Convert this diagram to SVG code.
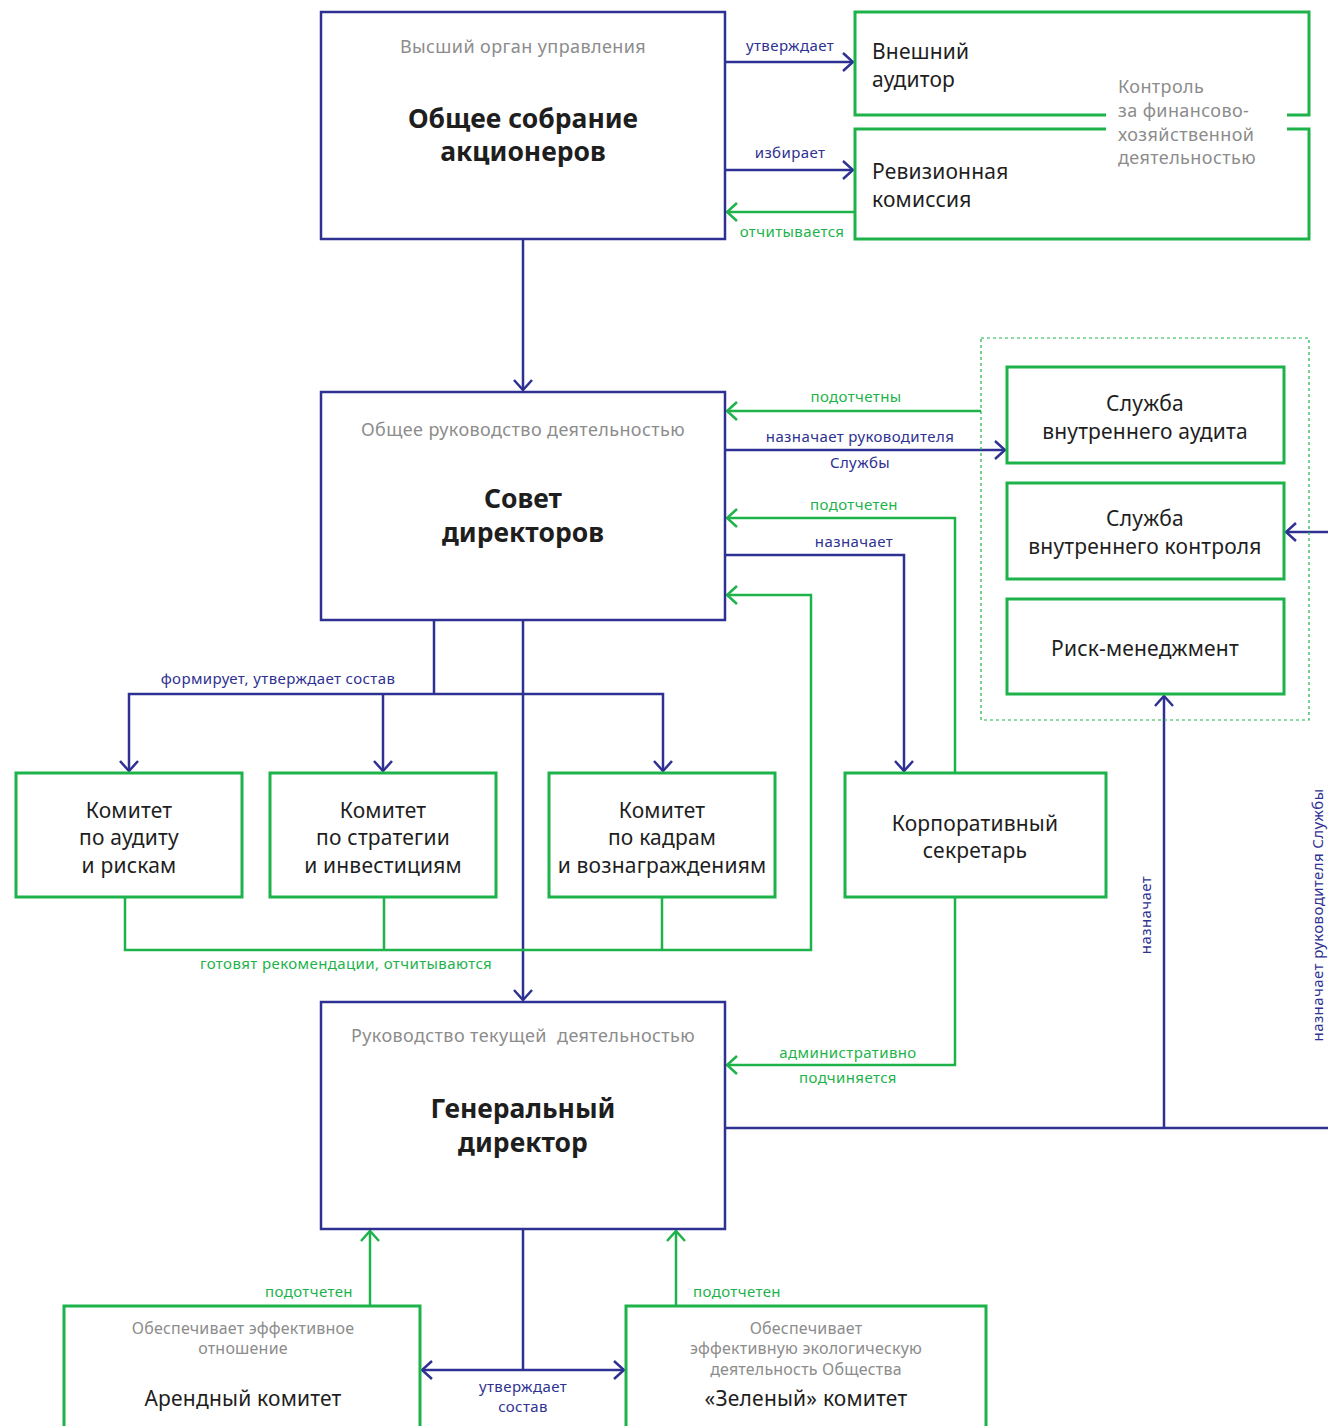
<svg xmlns="http://www.w3.org/2000/svg" width="1328" height="1426" viewBox="0 0 1328 1426">
<style>
text{font-family:"Noto Sans","Liberation Sans",sans-serif;}
.bb{fill:#fff;stroke:#2e3192;stroke-width:2.5}
.gb{fill:#fff;stroke:#1db34a;stroke-width:3}
.bl{fill:none;stroke:#2e3192;stroke-width:2.5}
.gl{fill:none;stroke:#1db34a;stroke-width:2.5}
.sub{fill:#8c8c8c;font-size:18px;letter-spacing:0.4px;text-anchor:middle}
.title{fill:#1e1e1e;font-size:26.5px;font-weight:700;text-anchor:middle}
.nm{fill:#1e1e1e;font-size:21px;letter-spacing:0.2px;text-anchor:middle}
.nml{fill:#1e1e1e;font-size:21px;letter-spacing:0.2px}
.lb{fill:#2e3192;font-size:15px;letter-spacing:0.4px;text-anchor:middle}
.lg{fill:#1db34a;font-size:15px;letter-spacing:0.4px;text-anchor:middle}
.sm{fill:#8c8c8c;font-size:16px;letter-spacing:0.2px;text-anchor:middle}
</style>
<defs>
<marker id="ab" viewBox="0 0 12 20" refX="11" refY="10" markerWidth="12" markerHeight="20" markerUnits="userSpaceOnUse" orient="auto-start-reverse"><path d="M1,1 L11,10 L1,19" fill="none" stroke="#2e3192" stroke-width="2.5"/></marker>
<marker id="ag" viewBox="0 0 12 20" refX="11" refY="10" markerWidth="12" markerHeight="20" markerUnits="userSpaceOnUse" orient="auto-start-reverse"><path d="M1,1 L11,10 L1,19" fill="none" stroke="#1db34a" stroke-width="2.5"/></marker>
</defs>

<g id="connectors">
<line class="bl" x1="725" y1="62" x2="853" y2="62" marker-end="url(#ab)"/>
<line class="bl" x1="725" y1="170" x2="853" y2="170" marker-end="url(#ab)"/>
<line class="gl" x1="855" y1="212" x2="727" y2="212" marker-end="url(#ag)"/>
<line class="bl" x1="523" y1="239" x2="523" y2="390" marker-end="url(#ab)"/>
<line class="gl" x1="981" y1="411" x2="727" y2="411" marker-end="url(#ag)"/>
<line class="bl" x1="725" y1="450" x2="1005" y2="450" marker-end="url(#ab)"/>
<polyline class="gl" points="955,773 955,518 727,518" marker-end="url(#ag)"/>
<polyline class="bl" points="725,555 904,555 904,771" marker-end="url(#ab)"/>
<polyline class="bl" points="434,620 434,694"/>
<polyline class="bl" points="129,771 129,694 663,694 663,771" marker-start="url(#ab)" marker-end="url(#ab)"/>
<line class="bl" x1="383" y1="694" x2="383" y2="771" marker-end="url(#ab)"/>
<line class="bl" x1="523" y1="620" x2="523" y2="1000" marker-end="url(#ab)"/>
<polyline class="gl" points="125,897 125,950 811,950 811,595 727,595" marker-end="url(#ag)"/>
<line class="gl" x1="384" y1="897" x2="384" y2="950"/>
<line class="gl" x1="662" y1="897" x2="662" y2="950"/>
<polyline class="gl" points="955,897 955,1065 727,1065" marker-end="url(#ag)"/>
<line class="bl" x1="725" y1="1128" x2="1330" y2="1128"/>
<line class="bl" x1="1164" y1="1128" x2="1164" y2="696" marker-end="url(#ab)"/>
<line class="bl" x1="1330" y1="532" x2="1286" y2="532" marker-end="url(#ab)"/>
<line class="bl" x1="523" y1="1229" x2="523" y2="1370"/>
<line class="bl" x1="422" y1="1370" x2="624" y2="1370" marker-start="url(#ab)" marker-end="url(#ab)"/>
<line class="gl" x1="370" y1="1306" x2="370" y2="1231" marker-end="url(#ag)"/>
<line class="gl" x1="676" y1="1306" x2="676" y2="1231" marker-end="url(#ag)"/>
<text class="lb" x="790" y="51">утверждает</text>
<text class="lb" x="790" y="158">избирает</text>
<text class="lg" x="792" y="237">отчитывается</text>
<text class="lg" x="856" y="402">подотчетны</text>
<text class="lb" x="860" y="442">назначает руководителя</text>
<text class="lb" x="860" y="468">Службы</text>
<text class="lg" x="854" y="510">подотчетен</text>
<text class="lb" x="854" y="547">назначает</text>
<text class="lb" x="278" y="684">формирует, утверждает состав</text>
<text class="lg" x="346" y="969">готовят рекомендации, отчитываются</text>
<text class="lg" x="848" y="1058">административно</text>
<text class="lg" x="848" y="1083">подчиняется</text>
<text class="lb" transform="translate(1151,915) rotate(-90)">назначает</text>
<text class="lb" transform="translate(1323,915) rotate(-90)">назначает руководителя Службы</text>
<text class="lg" x="309" y="1297">подотчетен</text>
<text class="lg" x="737" y="1297">подотчетен</text>
<text class="lb" x="523" y="1392">утверждает</text>
<text class="lb" x="523" y="1412">состав</text>
</g>

<g id="n-osa">
<rect class="bb" x="321" y="12" width="404" height="227"/>
<text class="sub" x="523" y="53">Высший орган управления</text>
<text class="title" x="523" y="128">Общее собрание</text>
<text class="title" x="523" y="161">акционеров</text>
</g>

<g id="n-auditor">
<path class="gb" d="M1106,115 L855,115 L855,12 L1309,12 L1309,115 L1287,115"/>
<text class="nml" x="872" y="59">Внешний</text>
<text class="nml" x="872" y="87">аудитор</text>
</g>

<g id="n-revision">
<path class="gb" d="M1106,129 L855,129 L855,239 L1309,239 L1309,129 L1287,129"/>
<text class="nml" x="872" y="179">Ревизионная</text>
<text class="nml" x="872" y="207">комиссия</text>
</g>

<g id="n-control-note">
<text class="sub" style="text-anchor:start" x="1118" y="93">Контроль</text>
<text class="sub" style="text-anchor:start" x="1118" y="117">за финансово-</text>
<text class="sub" style="text-anchor:start" x="1118" y="141">хозяйственной</text>
<text class="sub" style="text-anchor:start" x="1118" y="164">деятельностью</text>
</g>

<g id="n-sd">
<rect class="bb" x="321" y="392" width="404" height="228"/>
<text class="sub" x="523" y="436">Общее руководство деятельностью</text>
<text class="title" x="523" y="508">Совет</text>
<text class="title" x="523" y="542">директоров</text>
</g>

<g id="n-internal-group">
<rect x="981" y="338" width="328" height="382" fill="none" stroke="#1db34a" stroke-width="1.2" stroke-dasharray="3,3"/>
</g>

<g id="n-sva">
<rect class="gb" x="1007" y="367" width="277" height="96"/>
<text class="nm" x="1145" y="411">Служба</text>
<text class="nm" x="1145" y="439">внутреннего аудита</text>
</g>

<g id="n-svk">
<rect class="gb" x="1007" y="483" width="277" height="96"/>
<text class="nm" x="1145" y="526">Служба</text>
<text class="nm" x="1145" y="554">внутреннего контроля</text>
</g>

<g id="n-risk">
<rect class="gb" x="1007" y="599" width="277" height="95"/>
<text class="nm" x="1145" y="656">Риск-менеджмент</text>
</g>

<g id="n-k-audit">
<rect class="gb" x="16" y="773" width="226" height="124"/>
<text class="nm" x="129" y="818">Комитет</text>
<text class="nm" x="129" y="845">по аудиту</text>
<text class="nm" x="129" y="873">и рискам</text>
</g>

<g id="n-k-strategy">
<rect class="gb" x="270" y="773" width="226" height="124"/>
<text class="nm" x="383" y="818">Комитет</text>
<text class="nm" x="383" y="845">по стратегии</text>
<text class="nm" x="383" y="873">и инвестициям</text>
</g>

<g id="n-k-hr">
<rect class="gb" x="549" y="773" width="226" height="124"/>
<text class="nm" x="662" y="818">Комитет</text>
<text class="nm" x="662" y="845">по кадрам</text>
<text class="nm" x="662" y="873">и вознаграждениям</text>
</g>

<g id="n-secretary">
<rect class="gb" x="845" y="773" width="261" height="124"/>
<text class="nm" x="975" y="831">Корпоративный</text>
<text class="nm" x="975" y="858">секретарь</text>
</g>

<g id="n-gd">
<rect class="bb" x="321" y="1002" width="404" height="227"/>
<text class="sub" x="523" y="1042" style="white-space:pre">Руководство текущей  деятельностью</text>
<text class="title" x="523" y="1118">Генеральный</text>
<text class="title" x="523" y="1152">директор</text>
</g>

<g id="n-arenda">
<path class="gb" d="M64,1430 L64,1306 L420,1306 L420,1430"/>
<text class="sm" x="243" y="1334">Обеспечивает эффективное</text>
<text class="sm" x="243" y="1354">отношение</text>
<text class="nm" x="243" y="1406">Арендный комитет</text>
</g>

<g id="n-green">
<path class="gb" d="M626,1430 L626,1306 L986,1306 L986,1430"/>
<text class="sm" x="806" y="1334">Обеспечивает</text>
<text class="sm" x="806" y="1354">эффективную экологическую</text>
<text class="sm" x="806" y="1375">деятельность Общества</text>
<text class="nm" x="806" y="1406">«Зеленый» комитет</text>
</g>
</svg>
